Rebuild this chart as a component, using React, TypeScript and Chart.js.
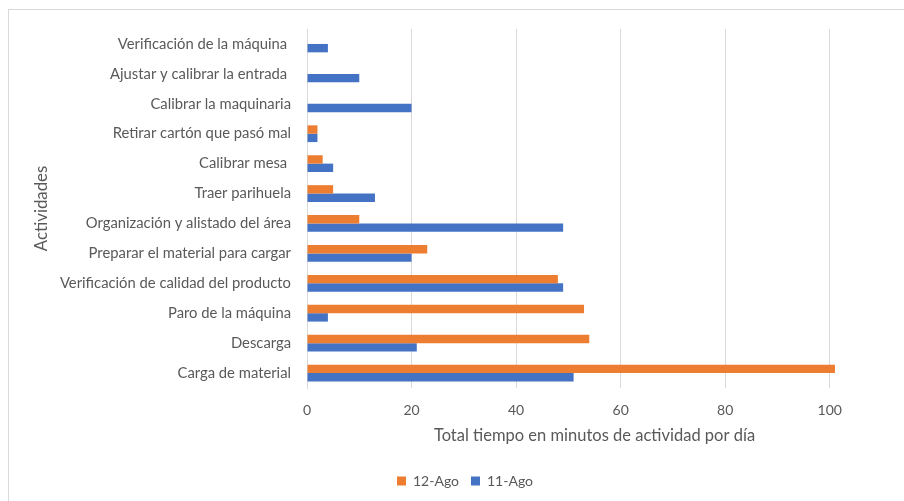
import { useEffect, useRef } from "react";
import { Chart, registerables } from "chart.js";

Chart.register(...registerables);

// Activities, top to bottom
const activities = [
  "Verificación de la máquina ",
  "Ajustar y calibrar la entrada ",
  "Calibrar la maquinaria",
  "Retirar cartón que pasó mal",
  "Calibrar mesa ",
  "Traer parihuela",
  "Organización y alistado del área",
  "Preparar el material para cargar",
  "Verificación de calidad del producto",
  "Paro de la máquina",
  "Descarga",
  "Carga de material",
];

// Minutes per activity for each day
const minutes12Ago = [0, 0, 0, 2, 3, 5, 10, 23, 48, 53, 54, 101];
const minutes11Ago = [4, 10, 20, 2, 5, 13, 49, 20, 49, 4, 21, 51];

// Labelled ticks on the minutes axis
const minuteTicks = [0, 20, 40, 60, 80, 100];

const TEXT = "#595959";
const GRID = "#d9d9d9";
const FONT = "Lato, 'Open Sans', sans-serif";

export default function App() {
  const canvasRef = useRef<HTMLCanvasElement | null>(null);

  useEffect(() => {
    const canvas = canvasRef.current;
    if (!canvas) return;
    const chart = new Chart(canvas, {
      type: "bar",
      data: {
        labels: activities,
        datasets: [
          {
            label: "12-Ago",
            data: minutes12Ago,
            backgroundColor: "#ED7D31",
            borderWidth: 0,
            categoryPercentage: 0.56,
            barPercentage: 1,
          },
          {
            label: "11-Ago",
            data: minutes11Ago,
            backgroundColor: "#4472C4",
            borderWidth: 0,
            categoryPercentage: 0.56,
            barPercentage: 1,
          },
        ],
      },
      options: {
        indexAxis: "y",
        responsive: false,
        animation: false,
        layout: { padding: { top: 19, right: 0, left: 0, bottom: 0 } },
        plugins: {
          tooltip: { enabled: false },
          legend: {
            position: "bottom",
            labels: {
              boxWidth: 9,
              boxHeight: 9,
              padding: 12,
              color: TEXT,
              font: { family: FONT, size: 14 },
            },
          },
        },
        scales: {
          x: {
            type: "linear",
            min: 0,
            max: 110,
            afterBuildTicks: (axis: any) => {
              axis.ticks = minuteTicks.map((v) => ({ value: v }));
            },
            afterFit: (scale: any) => {
              scale.height = 74;
            },
            grid: { color: GRID, lineWidth: 1, drawTicks: false },
            border: { display: false },
            ticks: {
              color: TEXT,
              padding: 14,
              font: { family: FONT, size: 14 },
            },
            title: {
              display: true,
              text: "Total tiempo en minutos de actividad por día",
              color: TEXT,
              font: { family: FONT, size: 16.5 },
              padding: { top: 0, bottom: 16 },
            },
          },
          y: {
            type: "category",
            afterFit: (scale: any) => {
              scale.width = 298;
              // category labels sit inside the band, so no extra room above/below
              scale.paddingTop = 0;
              scale.paddingBottom = 0;
            },
            grid: { display: false, drawTicks: false },
            border: { display: true, color: GRID, width: 1 },
            ticks: {
              color: TEXT,
              padding: 16,
              autoSkip: false,
              font: { family: FONT, size: 14.8 },
            },
            title: {
              display: true,
              text: "Actividades",
              color: TEXT,
              font: { family: FONT, size: 16.8 },
              padding: { top: 23, bottom: 0 },
            },
          },
          // empty margin to the right of the plot area
          yRight: {
            type: "category",
            position: "right",
            afterFit: (scale: any) => {
              scale.width = 39;
              scale.paddingTop = 0;
              scale.paddingBottom = 0;
            },
            grid: { display: false, drawTicks: false },
            border: { display: false },
            ticks: { display: false },
          },
        },
      },
    });
    return () => chart.destroy();
  }, []);

  return (
    <div
      style={{
        position: "fixed",
        left: 0,
        top: 0,
        width: 904,
        height: 501,
        overflow: "hidden",
        background: "#fff",
      }}
    >
      <div
        style={{
          position: "absolute",
          left: 8,
          top: 9,
          width: 912,
          height: 520,
          border: `1px solid ${GRID}`,
          background: "#fff",
        }}
      >
        <canvas ref={canvasRef} width={912} height={488} style={{ display: "block" }} />
      </div>
    </div>
  );
}
